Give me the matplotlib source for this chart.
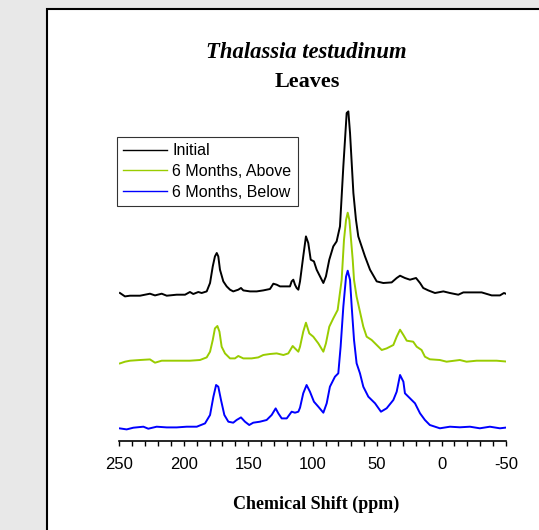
import matplotlib.pyplot as plt
from matplotlib.patches import Rectangle
from matplotlib.ticker import MultipleLocator

# chemical shift (ppm) and intensity (px above baseline)
initial_ppm = [249.5, 245.6, 241.7, 233.9, 226.2, 222.3, 217.1, 213.2, 205.5, 199.0,
               195.2, 192.6, 188.7, 186.1, 182.2, 179.6, 177.5, 175.8, 174.4, 173.2,
               171.9, 169.3, 166.7, 164.1, 161.6, 157.7, 155.6, 153.8, 148.6, 143.4,
               138.3, 133.1, 130.5, 127.9, 125.3, 120.1, 117.6, 116.3, 115.0, 113.7,
               112.4, 111.1, 109.8, 107.3, 105.2, 103.4, 101.5, 99.0, 96.9, 94.3,
               91.7, 89.7, 87.1, 84.0, 81.4, 78.8, 77.5, 76.2, 74.9, 73.6,
               72.3, 71.0, 69.7, 68.4, 66.4, 64.6, 62.0, 59.4, 55.5, 50.3,
               45.2, 38.7, 34.8, 32.2, 28.4, 24.5, 19.8, 16.7, 14.2, 10.3,
               5.1, -1.4, -6.5, -13.0, -16.9, -23.4, -31.1, -38.9, -45.3, -48.4, -51.8]
initial_int = [1.7, -1.7, -1.0, -1.0, 1.0, -0.7, 1.0, -1.0, 0.0, 0.0,
               2.7, 0.7, 2.7, 1.7, 3.3, 11.7, 28.3, 38.3, 41.7, 38.3,
               25.0, 13.3, 8.3, 5.0, 3.3, 5.0, 6.7, 4.3, 3.3, 3.3,
               4.3, 5.7, 11.0, 10.0, 8.3, 8.3, 8.3, 13.3, 15.0, 10.0,
               6.7, 5.0, 13.3, 38.3, 58.3, 51.7, 35.0, 33.3, 25.0, 18.3,
               11.7, 18.3, 35.0, 48.3, 53.3, 68.3, 98.3, 128.3, 155.0, 181.7,
               183.3, 161.7, 131.7, 101.7, 75.0, 58.3, 48.3, 38.3, 25.0, 13.3,
               11.7, 12.3, 16.7, 19.0, 16.7, 15.0, 16.7, 11.7, 6.7, 4.3,
               1.7, 3.3, 1.7, 0.0, 2.3, 2.3, 2.3, -0.7, -0.7, 1.7, 0.0]

above_ppm = [249.5, 245.6, 241.7, 233.9, 226.2, 222.3, 217.1, 205.5, 195.2, 187.4,
             182.2, 179.6, 177.5, 175.8, 173.9, 172.3, 170.6, 168.0, 164.1, 160.3,
             157.7, 153.8, 147.4, 142.2, 138.3, 133.1, 127.9, 122.7, 118.9, 115.5,
             113.7, 111.1, 109.8, 107.3, 105.2, 102.6, 99.5, 95.6, 91.7, 89.7,
             87.1, 84.0, 80.6, 77.5, 75.7, 74.1, 72.8, 71.5, 70.2, 68.9,
             67.9, 65.9, 63.3, 60.7, 58.1, 54.2, 50.3, 46.4, 42.6, 37.4,
             34.8, 32.2, 29.6, 27.0, 22.0, 19.3, 15.5, 12.9, 9.1, 1.3,
             -3.9, -14.2, -19.4, -27.2, -34.9, -42.7, -51.8]
above_int = [-1.7, 0.0, 1.0, 1.7, 2.3, -1.0, 1.0, 1.0, 1.0, 1.7,
             4.3, 10.0, 21.7, 33.3, 35.7, 30.0, 15.0, 8.3, 3.3, 3.3,
             5.7, 3.3, 3.3, 4.3, 6.7, 7.7, 8.3, 6.7, 8.3, 15.7,
             13.3, 10.0, 15.0, 30.0, 39.0, 28.3, 25.0, 18.3, 10.0, 18.3,
             35.0, 43.3, 51.7, 81.7, 121.7, 141.7, 149.0, 141.7, 121.7, 101.7,
             81.7, 65.0, 50.0, 35.0, 25.0, 21.7, 16.7, 11.7, 13.3, 16.7,
             25.0, 32.0, 26.7, 21.0, 20.0, 15.0, 11.7, 5.0, 2.4, 1.7,
             0.0, 1.7, 0.0, 1.0, 1.0, 1.0, 0.0]

below_ppm = [249.5, 244.3, 239.1, 231.3, 227.5, 221.0, 213.2, 205.5, 197.7, 189.9,
             183.5, 179.6, 177.0, 174.9, 173.2, 171.1, 168.5, 165.4, 161.6, 159.0,
             155.6, 152.5, 149.2, 146.1, 140.9, 135.7, 131.8, 128.7, 126.6, 124.0,
             120.1, 116.3, 113.7, 111.1, 109.8, 107.3, 104.7, 102.1, 99.0, 95.6,
             91.7, 89.1, 86.6, 82.7, 80.1, 78.3, 76.2, 74.1, 72.8, 71.0,
             69.7, 67.9, 65.9, 63.3, 60.7, 56.8, 51.6, 47.0, 42.6, 37.4,
             34.8, 32.2, 29.6, 28.4, 24.5, 20.6, 16.7, 12.9, 9.1, 1.3,
             -6.5, -14.2, -22.0, -29.7, -37.5, -45.3, -51.8]
below_int = [-0.7, -1.7, 0.0, 1.0, -1.0, 1.0, 0.3, 0.3, 1.0, 1.0,
             4.3, 12.7, 31.0, 42.7, 41.0, 27.7, 12.7, 6.0, 5.0, 7.7,
             10.3, 6.0, 2.7, 5.0, 6.0, 7.7, 12.7, 19.3, 14.3, 9.3,
             9.3, 16.0, 15.0, 16.0, 20.0, 34.4, 42.7, 36.0, 26.0, 21.0,
             15.0, 24.4, 41.0, 51.0, 54.4, 81.0, 121.0, 151.0, 157.0, 147.7,
             121.0, 87.7, 64.4, 54.4, 41.0, 31.0, 24.4, 16.0, 19.4, 27.7,
             36.0, 52.7, 46.0, 34.4, 29.4, 24.4, 14.4, 7.7, 2.7, -0.6,
             1.0, 0.4, 1.0, -0.6, 1.0, -0.6, 0.4]

labels = ['Initial', '6 Months, Above', '6 Months, Below']
colors = ['black', '#99cc00', '#0000ff']
offsets = [146, 79, 13]
xticks = [250, 200, 150, 100, 50, 0, -50]
xticklabels = ['250', '200', '150', '100', '50', '0', '-50']

fig = plt.figure(figsize=(5.39, 5.30), dpi=100)
fig.patch.set_facecolor('#e8e8e8')
fig.patches.append(Rectangle((47 / 539, -0.1), 1.0, 1 - 9 / 530 + 0.1,
                             transform=fig.transFigure, facecolor='white',
                             edgecolor='black', linewidth=1.5, zorder=-1))

ax = fig.add_axes([119.3 / 539, (530 - 440.7) / 530, 386.7 / 539, 340.7 / 530])
ax.patch.set_alpha(0)
series = [(initial_ppm, initial_int), (above_ppm, above_int), (below_ppm, below_int)]
for (x, y), c, lab, off in zip(series, colors, labels, offsets):
    ax.plot(x, [v + off for v in y], color=c, lw=1.4, label=lab)

for s in ['top', 'right', 'left']:
    ax.spines[s].set_visible(False)
ax.spines['bottom'].set_linewidth(1.2)
ax.set_yticks([])
ax.set_xticks(xticks)
ax.set_xticklabels(xticklabels, fontfamily='Liberation Sans')
ax.xaxis.set_minor_locator(MultipleLocator(10))
ax.tick_params(axis='x', which='both', direction='out', length=3.5, width=1, pad=8,
               labelsize=12)
ax.set_xlim(250, -50)
ax.set_ylim(0, 340.7)

leg = ax.legend(loc='upper left', bbox_to_anchor=(117 / 539, 1 - 137 / 530),
                bbox_transform=fig.transFigure,
                prop={'family': 'Liberation Sans', 'size': 11.5},
                fancybox=False, frameon=True, edgecolor='black', handlelength=2.7,
                handletextpad=0.35, labelspacing=0.35, borderpad=0.4, borderaxespad=0)
leg.get_frame().set_linewidth(0.8)
for h in leg.get_lines():
    h.set_linewidth(1.0)

fig.text(306 / 539, 1 - 58 / 530, 'Thalassia testudinum', ha='center', va='baseline',
         fontfamily='Liberation Serif', fontsize=16.3, fontweight='bold', fontstyle='italic')
fig.text(307 / 539, 1 - 87 / 530, 'Leaves', ha='center', va='baseline',
         fontfamily='Liberation Serif', fontsize=16, fontweight='bold')
fig.text(316 / 539, 1 - 509 / 530, 'Chemical Shift (ppm)', ha='center', va='baseline',
         fontfamily='Liberation Serif', fontsize=13, fontweight='bold')

fig.savefig('out.png', dpi=100)
